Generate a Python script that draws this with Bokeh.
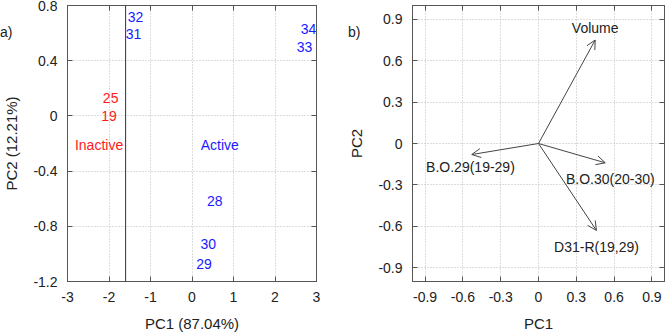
from bokeh.plotting import figure
from bokeh.layouts import row
from bokeh.models import (ColumnDataSource, FixedTicker, LinearAxis, Span, Arrow,
                          OpenHead, Range1d, Div)
from bokeh.core.properties import value
from bokeh.embed import file_html
from bokeh.resources import INLINE

FONT = "Liberation Sans"

# ---- panel a: PCA scores ----
score_ids = ["32", "31", "34", "33", "25", "19", "28", "30", "29"]
score_pc1 = [-1.36, -1.41, 2.81, 2.71, -1.96, -2.00, 0.55, 0.39, 0.29]
score_pc2 = [0.72, 0.59, 0.63, 0.50, 0.13, 0.00, -0.62, -0.93, -1.07]
score_class = ["Active", "Active", "Active", "Active", "Inactive", "Inactive",
               "Active", "Active", "Active"]
group_names = ["Inactive", "Active"]
group_pc1 = [-2.24, 0.67]
group_pc2 = [-0.21, -0.21]
threshold_pc1 = -1.6
class_colors = {"Active": "#1a1aff", "Inactive": "#ff1a1a"}

a_xticks = [-3, -2, -1, 0, 1, 2, 3]
a_xlabels = ["-3", "-2", "-1", "0", "1", "2", "3"]
a_yticks = [-1.2, -0.8, -0.4, 0, 0.4, 0.8]
a_ylabels = ["-1.2", "-0.8", "-0.4", "0", "0.4", "0.8"]

# ---- panel b: loadings ----
var_names = ["Volume", "B.O.29(19-29)", "B.O.30(20-30)", "D31-R(19,29)"]
load_pc1 = [0.45, -0.53, 0.53, 0.46]
load_pc2 = [0.75, -0.08, -0.14, -0.63]
label_pc1 = [0.45, -0.54, 0.57, 0.46]
label_pc2 = [0.84, -0.17, -0.26, -0.75]

b_ticks = [-0.9, -0.6, -0.3, 0, 0.3, 0.6, 0.9]
b_labels = ["-0.9", "-0.6", "-0.3", "0", "0.3", "0.6", "0.9"]


def style(p, xt, xl, yt, yl):
    p.outline_line_color = "#555555"
    p.outline_line_width = 1
    for ax, t, l in ((p.xaxis[0], xt, xl), (p.yaxis[0], yt, yl)):
        ax.ticker = FixedTicker(ticks=t)
        ax.major_label_overrides = dict(zip(t, l))
        ax.major_tick_in = 5
        ax.major_tick_out = 0
        ax.minor_tick_in = 0
        ax.minor_tick_out = 0
        ax.major_tick_line_color = "#555555"
        ax.axis_line_color = "#555555"
        ax.major_label_text_font = FONT
        ax.major_label_text_font_size = "14px"
        ax.major_label_text_color = "#222222"
        ax.major_label_standoff = 10
        ax.axis_label_text_font = FONT
        ax.axis_label_text_font_size = "15px"
        ax.axis_label_text_font_style = "normal"
        ax.axis_label_text_color = "#222222"
        ax.axis_label_standoff = 10
    # inward ticks on the right and top edges (drawn as minor ticks: no labels)
    for loc, t in (("right", yt), ("above", xt)):
        ax = LinearAxis(ticker=FixedTicker(ticks=[], minor_ticks=t),
                        major_tick_in=0, major_tick_out=0,
                        minor_tick_in=5, minor_tick_out=0, major_label_standoff=0,
                        minor_tick_line_color="#555555", minor_tick_line_width=1,
                        axis_line_color="#555555")
        p.add_layout(ax, loc)
    p.xgrid.ticker = FixedTicker(ticks=xt)
    p.ygrid.ticker = FixedTicker(ticks=yt)
    for g in (p.xgrid[0], p.ygrid[0]):
        g.grid_line_color = "#bbbbbb"
        g.grid_line_dash = "1 2"
        g.grid_line_width = 1


def panel_tag(text, left):
    return Div(text=text, styles={"position": "absolute", "left": f"{left}px",
                                  "top": "24px", "font-family": FONT,
                                  "font-size": "14px", "color": "#222222",
                                  "line-height": "16px", "margin": "0",
                                  "padding": "0"})


# Panel a
pa = figure(width=333, height=334, output_backend="svg", toolbar_location=None,
            x_range=Range1d(-3, 3), y_range=Range1d(-1.2, 0.8),
            x_axis_label="PC1 (87.04%)", y_axis_label="PC2 (12.21%)",
            min_border_left=63, min_border_right=17, min_border_top=5, min_border_bottom=52)
style(pa, a_xticks, a_xlabels, a_yticks, a_ylabels)
pa.add_layout(Span(location=threshold_pc1, dimension="height", line_color="#333333",
                   line_width=1))
src_a = ColumnDataSource(dict(x=score_pc1, y=score_pc2, t=score_ids,
                              c=[class_colors[k] for k in score_class]))
pa.text("x", "y", text="t", color="c", source=src_a, text_font=value(FONT),
        text_font_size="14px", text_align="center", text_baseline="middle")
src_g = ColumnDataSource(dict(x=group_pc1, y=group_pc2, t=group_names,
                              c=[class_colors[k] for k in group_names]))
pa.text("x", "y", text="t", color="c", source=src_g, text_font=value(FONT),
        text_font_size="14px", text_align="center", text_baseline="middle")
pa.elements = [panel_tag("a)", 0)]

# Panel b
pb = figure(width=333, height=334, output_backend="svg", toolbar_location=None,
            x_range=Range1d(-1, 1), y_range=Range1d(-1, 1),
            x_axis_label="PC1", y_axis_label="PC2",
            min_border_left=79, min_border_right=2, min_border_top=5, min_border_bottom=52)
style(pb, b_ticks, b_labels, b_ticks, b_labels)
src_b = ColumnDataSource(dict(x0=[0] * len(load_pc1), y0=[0] * len(load_pc2),
                              x1=load_pc1, y1=load_pc2))
pb.add_layout(Arrow(x_start="x0", y_start="y0", x_end="x1", y_end="y1", source=src_b,
                    line_color="#444444", line_width=1,
                    end=OpenHead(size=9, line_color="#444444", line_width=1)))
src_bl = ColumnDataSource(dict(x=label_pc1, y=label_pc2, t=var_names))
pb.text("x", "y", text="t", source=src_bl, text_color="#222222", text_font=value(FONT),
        text_font_size="14px", text_align="center", text_baseline="middle")
pb.elements = [panel_tag("b)", 15)]

layout = row(pa, pb)
open("out.html", "w").write(file_html(layout, INLINE))
